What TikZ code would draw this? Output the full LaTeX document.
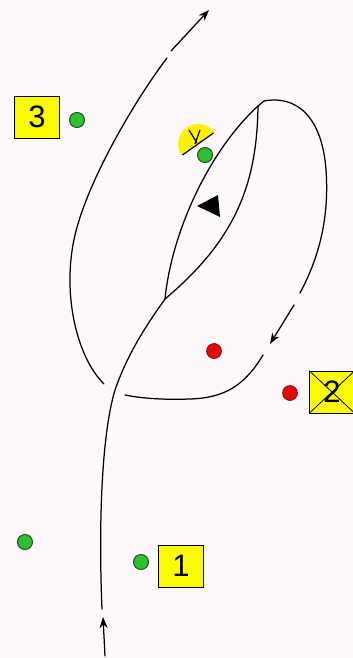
\documentclass[tikz,border=0pt]{standalone}
\usepackage{fontspec}
\setmainfont{Liberation Sans}
\usetikzlibrary{arrows.meta}
\definecolor{bg}{RGB}{252,248,252}
\definecolor{boxyellow}{RGB}{250,250,0}
\definecolor{gfill}{RGB}{50,190,50}
\definecolor{gline}{RGB}{20,90,20}
\definecolor{rfill}{RGB}{225,10,10}
\definecolor{rline}{RGB}{120,0,0}
\tikzset{
  track/.style={line width=1.25pt, black, line cap=round},
  tipped/.style={track, -{Stealth[length=11pt,width=8pt]}},
  gdot/.style={circle, fill=gfill, draw=gline, line width=1pt, minimum size=15pt, inner sep=0pt},
  rdot/.style={circle, fill=rfill, draw=rline, line width=0.6pt, minimum size=15pt, inner sep=0pt},
  numbox/.style={draw=black, line width=0.8pt, fill=boxyellow, minimum width=45pt, minimum height=42pt, inner sep=0pt, font=\fontsize{31}{31}\selectfont}
}
\begin{document}
\begin{tikzpicture}[x=1pt,y=-1pt]
\fill[bg] (0,0) rectangle (353,658);
\useasboundingbox (0,0) rectangle (353,658);

% coordinates of the tracks
\coordinate (inA) at (105,656);
\coordinate (inB) at (103,617);
\coordinate (inC) at (102,609);
\coordinate (lensB) at (165,299);
\coordinate (lensT) at (258,106);

% inbound
\draw[tipped] (inA) -- (inB);
\draw[track] (inC) .. controls (99,540) and (100,440) .. (115,390)
  .. controls (128,352) and (150,320) .. (lensB);

% lens
\draw[track] (lensB) .. controls (172,230) and (210,150) .. (lensT);
\draw[track] (lensT) .. controls (257,185) and (235,240) .. (lensB);

% big loop
\draw[track] (258,106) -- (264,101) .. controls (295,95) and (322,115) .. (326,170)
  .. controls (330,225) and (315,265) .. (300,293);
\coordinate (lpA) at (294,305);
\coordinate (lpB) at (270,344);
\draw[tipped] (lpA) -- (lpB);
\draw[track] (263,355) .. controls (245,385) and (225,398) .. (190,399)
  .. controls (160,400) and (140,398) .. (125,395);

% outbound arc
\draw[track] (104,384) .. controls (75,355) and (62,290) .. (75,235)
  .. controls (88,180) and (135,100) .. (167,58);
\coordinate (outA) at (171,51);
\coordinate (outB) at (209,10);
\draw[tipped] (outA) -- (outB);

% symbol with yellow half disc
\fill[yellow] (214.5,132.5) arc[start angle=-35, end angle=-215, radius=20] -- cycle;
\draw[black, line width=1.2pt] (182.5,155) -- (213.5,133);
\draw[black, line width=1.2pt] (197,143) -- (189,130);
\draw[black, line width=1.2pt] (195,144) -- (200,130);

% triangle
\fill[black] (197,206) -- (218,195) -- (220,217) -- cycle;

% dots
\node[gdot] (g3) at (77,120) {};
\node[gdot] (gs) at (205,155) {};
\node[gdot] (g4) at (25,542) {};
\node[gdot] (g1) at (141,562) {};
\node[rdot] (r1) at (214,351) {};
\node[rdot] (r2) at (290,393) {};

% boxes
\node[numbox] (b3) at (37,117) {3};
\node[numbox] (b1) at (181,566) {1};
\node[numbox] (b2) at (332,392) {};
\draw[black, line width=0.8pt] (b2.north west) -- (b2.south east);
\draw[black, line width=0.8pt] (b2.south west) -- (b2.north east);
\node[font=\fontsize{31}{31}\selectfont] (t2) at (b2.center) {2};
\end{tikzpicture}
\end{document}
